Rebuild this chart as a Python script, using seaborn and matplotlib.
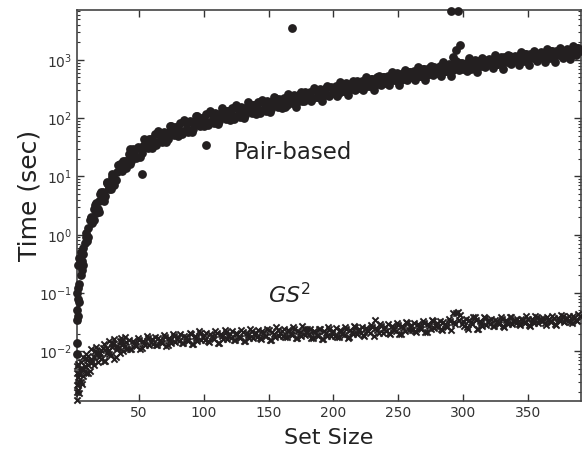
import numpy as np
import pandas as pd
import matplotlib
matplotlib.use('Agg')
import matplotlib.pyplot as plt
import seaborn as sns

# --- 1. DATA ---
# two runs: even set sizes 2..390 and odd set sizes 3..389
even_sizes = list(range(2, 391, 2))
odd_sizes = list(range(3, 390, 2))

# Pair-based running time (sec), even set sizes
pair_time_even = [
    0.035, 0.14, 0.25, 0.71, 0.79, 1.8, 1.6, 3.2, 2.8, 5.0,
    5.4, 4.6, 7.4, 6.0, 9.8, 8.7, 15.8, 12.9, 18.2, 13.8,
    24.0, 18.6, 27.5, 20.4, 30.9, 25.7, 43.7, 33.1, 43.7, 30.9,
    52.5, 38.9, 55.0, 38.9, 56.2, 44.7, 74.1, 55.0, 70.8, 49.0,
    81.3, 60.3, 83.2, 58.9, 85.1, 66.1, 110, 79.4, 102, 72.4,
    117, 85.1, 117, 83.2, 117, 91.2, 148, 107, 135, 93.3,
    151, 110, 151, 105, 148, 115, 186, 135, 170, 117,
    191, 138, 191, 132, 186, 145, 234, 170, 214, 148,
    224, 170, 240, 182, 251, 191, 263, 200, 282, 214,
    282, 219, 302, 229, 316, 240, 331, 251, 347, 269,
    363, 275, 380, 288, 398, 302, 407, 316, 427, 331,
    437, 339, 468, 355, 479, 372, 501, 389, 513, 407,
    537, 427, 562, 447, 575, 457, 603, 479, 631, 501,
    646, 513, 676, 537, 692, 562, 724, 575, 759, 603,
    776, 617, 813, 646, 832, 676, 933, 724, 891, 692,
    724, 912, 708, 933, 759, 977, 776, 1000, 813, 1023,
    832, 1047, 851, 1096, 891, 1122, 912, 1148, 955, 1175,
    977, 1202, 1000, 1259, 1023, 1288, 1072, 1318, 1096, 1349,
    1122, 1380, 1148, 1413, 1175, 1445, 1202, 1479, 1230, 1514,
    1259, 1549, 1288, 1585, 1413,
]

# Pair-based running time (sec), odd set sizes
pair_time_odd = [
    0.079, 0.33, 0.46, 1.05, 0.93, 1.9, 2.8, 2.4, 3.8, 3.9,
    3.8, 7.6, 6.3, 9.8, 7.2, 12.0, 16.2, 12.6, 18.6, 18.2,
    16.2, 29.5, 22.4, 31.6, 21.9, 33.9, 42.7, 30.9, 43.7, 40.7,
    34.7, 60.3, 43.7, 58.9, 38.9, 58.9, 72.4, 51.3, 70.8, 63.1,
    53.7, 93.3, 66.1, 89.1, 58.9, 87.1, 107, 74.1, 102, 91.2,
    75.9, 132, 93.3, 123, 79.4, 117, 141, 97.7, 132, 117,
    97.7, 166, 117, 155, 100, 148, 178, 123, 166, 148,
    123, 209, 148, 195, 126, 186, 224, 155, 209, 186,
    155, 263, 186, 245, 158, 234, 282, 195, 263, 234,
    195, 331, 234, 309, 200, 295, 355, 245, 331, 295,
    245, 417, 295, 389, 251, 363, 437, 302, 407, 363,
    302, 513, 363, 479, 309, 447, 537, 372, 501, 447,
    372, 631, 447, 589, 372, 550, 661, 457, 617, 537,
    447, 759, 537, 708, 447, 661, 794, 550, 741, 646,
    537, 912, 646, 851, 537, 794, 955, 661, 891, 776,
    646, 1096, 759, 1000, 631, 933, 1096, 759, 1000, 891,
    724, 1230, 851, 1122, 708, 1047, 1230, 851, 1122, 1000,
    832, 1380, 977, 1259, 813, 1175, 1413, 955, 1288, 1122,
    933, 1549, 1096, 1413, 912, 1318, 1585, 1072, 1445, 1259,
    1047, 1738, 1230, 1585,
]

# extra Pair-based runs: small set sizes and the outliers
pair_extra_size = [2, 2, 2, 2, 3, 3, 3, 4, 4, 5, 5, 6, 7, 7, 9, 11, 13, 15, 17, 19,
                   21, 23, 25, 27, 29, 43, 52, 102, 168, 291, 296, 292, 295, 298]
pair_extra_time = [0.009, 0.014, 0.05, 0.1, 0.04, 0.12, 0.3, 0.07, 0.4, 0.2, 0.5, 0.35,
                   0.6, 0.3, 0.9, 1.3, 2.0, 1.8, 3.5, 2.5, 5.5, 4.5, 8, 6, 11, 30, 11, 34,
                   3500, 7000, 6850, 1120, 1480, 1800]

# GS^2 running time (milliseconds), even set sizes
gs2_ms_even = [
    4.2, 3.0, 5.0, 4.6, 7.1, 4.5, 6.8, 10.2, 6.5, 9.5,
    11.5, 6.9, 10.2, 8.7, 13.2, 7.8, 11.2, 16.6, 10.0, 14.5,
    15.5, 11.0, 14.1, 12.3, 15.8, 11.2, 14.1, 18.2, 12.9, 16.2,
    17.8, 12.6, 15.8, 14.1, 17.8, 12.6, 15.8, 20.0, 14.5, 17.8,
    19.5, 13.8, 17.4, 15.1, 19.5, 13.5, 17.0, 21.9, 15.5, 19.1,
    20.9, 14.5, 18.6, 16.2, 20.4, 14.1, 18.2, 22.9, 16.2, 20.0,
    21.9, 15.5, 19.5, 17.0, 21.4, 15.1, 19.1, 24.0, 17.0, 20.9,
    23.4, 16.2, 20.4, 18.2, 22.9, 15.8, 20.0, 25.7, 18.2, 22.4,
    24.5, 17.4, 21.9, 19.1, 24.0, 17.0, 21.4, 26.9, 19.1, 24.0,
    24.2, 16.7, 21.1, 18.4, 23.6, 16.4, 20.6, 25.9, 18.4, 22.5,
    24.8, 17.2, 22.1, 19.3, 24.2, 17.2, 21.6, 27.2, 19.7, 24.2,
    26.3, 18.2, 23.4, 20.4, 26.3, 33.9, 22.9, 29.5, 20.8, 25.6,
    28.8, 19.9, 25.1, 22.3, 28.1, 19.5, 25.1, 31.6, 22.9, 28.1,
    30.5, 21.6, 27.2, 24.2, 30.5, 21.1, 27.2, 34.2, 24.8, 30.5,
    33.1, 23.4, 29.5, 26.3, 33.1, 44.7, 29.5, 46.8, 41.7, 33.1,
    35.5, 24.5, 31.6, 38.0, 34.6, 24.5, 30.9, 38.8, 28.1, 34.6,
    35.4, 26.9, 33.0, 29.5, 35.4, 26.2, 32.3, 38.8, 29.5, 34.6,
    36.2, 28.1, 33.8, 30.1, 36.2, 27.5, 33.0, 39.7, 30.1, 36.2,
    37.8, 28.7, 34.5, 31.4, 37.8, 28.0, 33.7, 41.5, 31.4, 37.0,
    39.6, 30.7, 37.0, 32.9, 39.6,
]

# GS^2 running time (milliseconds), odd set sizes
gs2_ms_odd = [
    2.75, 5.1, 4.7, 7.6, 4.2, 7.4, 5.9, 9.5, 7.9, 7.4,
    6.9, 11.2, 9.1, 14.1, 7.4, 12.3, 9.5, 15.1, 12.3, 11.0,
    11.0, 14.8, 12.9, 16.6, 11.0, 15.1, 12.6, 17.0, 14.5, 13.5,
    12.6, 17.0, 14.5, 19.1, 12.3, 17.0, 14.1, 18.6, 16.2, 14.8,
    13.8, 18.6, 15.8, 20.4, 13.5, 18.2, 15.1, 20.4, 17.4, 15.8,
    14.8, 20.0, 17.0, 21.9, 14.1, 19.5, 16.2, 21.4, 18.2, 17.0,
    15.8, 20.9, 17.8, 22.9, 15.1, 20.4, 17.0, 22.4, 19.5, 17.8,
    16.6, 21.9, 18.6, 24.5, 15.8, 21.4, 17.8, 23.4, 20.4, 18.6,
    17.4, 22.9, 19.5, 25.7, 16.6, 22.4, 18.6, 24.5, 21.4, 19.5,
    17.0, 22.4, 19.1, 24.5, 16.2, 21.9, 18.2, 24.0, 20.4, 18.6,
    17.8, 23.4, 20.0, 26.3, 17.0, 22.9, 19.5, 25.7, 21.9, 20.4,
    19.1, 25.1, 21.9, 28.2, 18.2, 25.1, 20.9, 27.5, 24.0, 21.9,
    20.4, 27.5, 23.4, 30.2, 20.0, 26.9, 22.4, 30.2, 25.7, 23.4,
    22.4, 29.5, 25.1, 33.1, 21.4, 28.8, 24.5, 32.4, 27.5, 25.7,
    24.0, 31.6, 27.5, 35.5, 22.9, 31.6, 45.7, 34.7, 29.5, 27.5,
    25.7, 33.9, 28.8, 38.0, 24.5, 33.1, 27.5, 37.2, 31.6, 28.8,
    27.5, 34.7, 30.9, 38.0, 26.9, 33.9, 29.5, 38.0, 33.1, 30.9,
    28.8, 36.3, 31.6, 39.8, 28.2, 35.5, 30.9, 38.9, 34.7, 32.4,
    30.2, 38.0, 33.1, 40.7, 29.5, 37.2, 32.4, 40.7, 35.5, 33.1,
    31.6, 39.8, 34.7, 42.7,
]

# extra GS^2 runs at small set sizes
gs2_extra_size = [2, 2, 2, 2, 3, 3, 3, 4, 4, 5, 5, 6, 7, 7, 8, 9, 9, 11, 11, 13, 13,
                  15, 17, 19, 21, 23, 25, 27, 29, 31, 33, 35, 37, 39]
gs2_extra_ms = [1.45, 2.0, 2.6, 5.5, 2.2, 3.6, 6.0, 1.9, 4.0, 3.0, 6.5, 2.7, 3.8, 8.0,
                5.5, 4.2, 9.0, 5.8, 8.2, 6.3, 11.0, 8.0, 12.0, 8.8, 10.5, 13.5, 9.2,
                14.8, 12.0, 16.2, 11.0, 15.0, 13.0, 17.5]

pair_df = pd.DataFrame({'set_size': even_sizes + odd_sizes + pair_extra_size,
                        'time': pair_time_even + pair_time_odd + pair_extra_time})
gs2_df = pd.DataFrame({'set_size': even_sizes + odd_sizes + gs2_extra_size,
                       'time': np.array(gs2_ms_even + gs2_ms_odd + gs2_extra_ms) / 1000.0})

# --- 2. STYLE ---
sns.set_style('ticks', {'xtick.direction': 'in', 'ytick.direction': 'in'})
plt.rcParams['font.family'] = ['DejaVu Sans']
plt.rcParams['mathtext.fontset'] = 'dejavusans'

mark_color = '#231f20'
text_color = '#333333'

fig = plt.figure(figsize=(5.82, 4.5), dpi=100)
ax = fig.add_axes([0.132, 0.109, 0.866, 0.868])

# --- 3. SCATTER ---
sns.scatterplot(data=pair_df, x='set_size', y='time', ax=ax, marker='o', s=40,
                color=mark_color, linewidth=0, clip_on=False, zorder=3)
sns.scatterplot(data=gs2_df, x='set_size', y='time', ax=ax, marker='x', s=20,
                color=mark_color, linewidth=1.4, clip_on=False, zorder=3)

ax.set_yscale('log')
ax.set_xlim(2, 391)
ax.set_ylim(1.4e-3, 7.1e3)
ax.set_xticks([50, 100, 150, 200, 250, 300, 350])

ax.text(169, 26, 'Pair-based', fontsize=16.5, color='#222222', ha='center', va='center')
ax.text(166, 0.095, r'$\mathit{GS}^2$', fontsize=16, color='#222222', ha='center', va='center')

ax.set_xlabel('Set Size', fontsize=16, color='#222222', labelpad=6)
ax.set_ylabel('Time (sec)', fontsize=18, color='#222222')
ax.yaxis.set_label_coords(-0.07, 0.525)

ax.tick_params(which='both', top=True, right=True, direction='in',
               labelsize=10, colors=text_color)
ax.tick_params(which='major', length=5, width=1)
ax.tick_params(which='minor', length=2.5, width=0.8)
for side in ax.spines.values():
    side.set_color('#444444')
    side.set_linewidth(1.2)

plt.savefig('out.png', dpi=100)
